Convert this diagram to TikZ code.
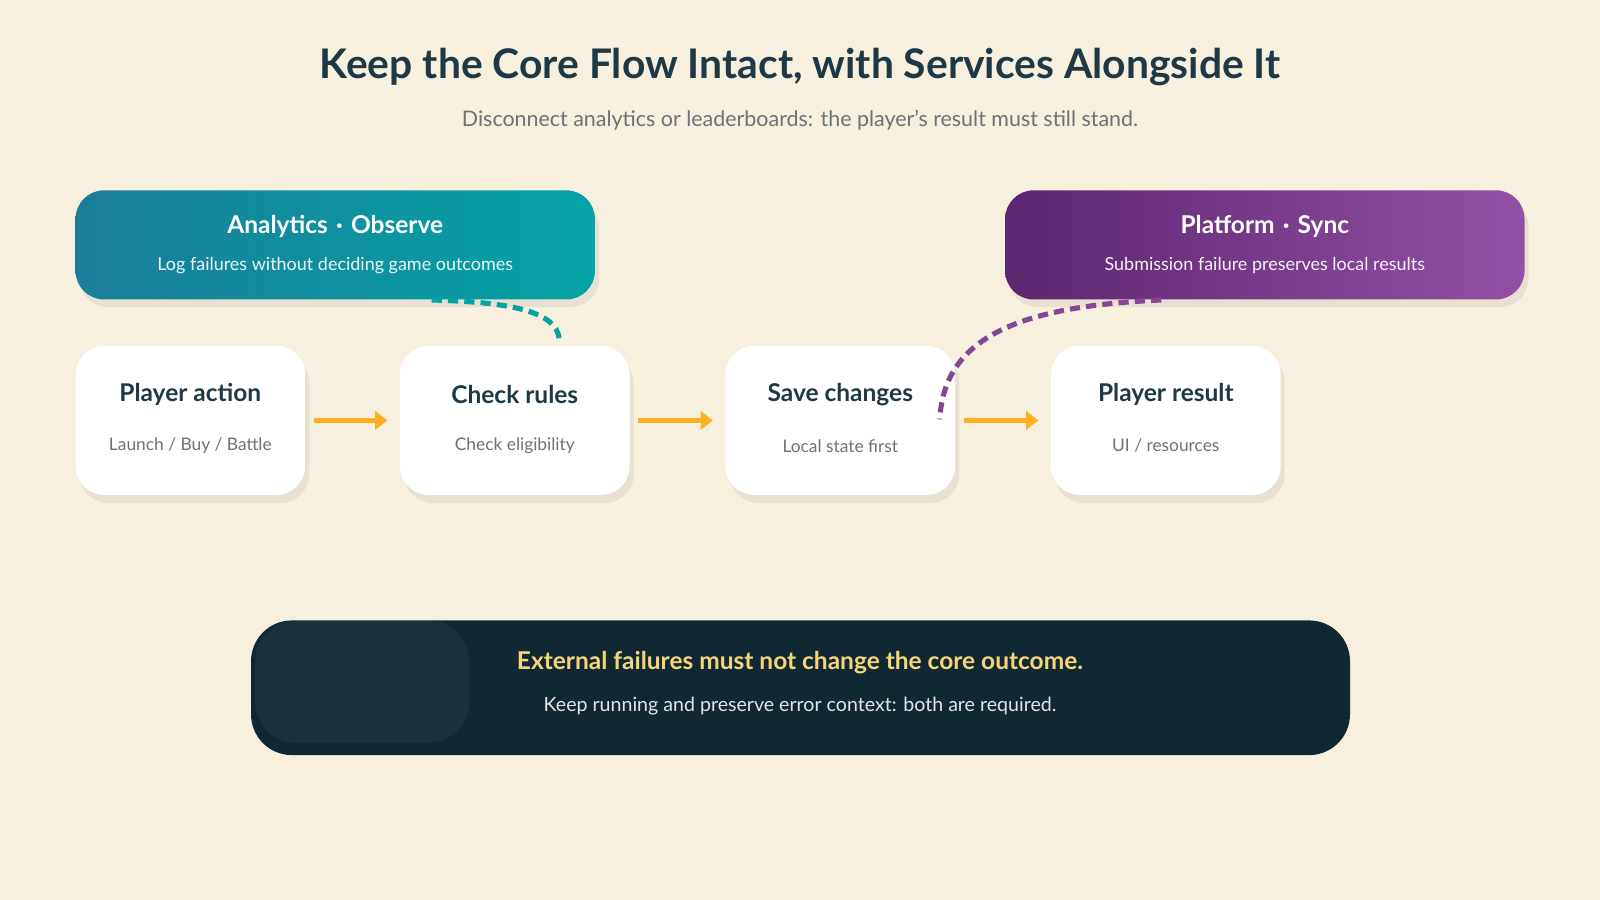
\documentclass[tikz,border=0pt]{standalone}
\usepackage{fontspec}
\setmainfont{Lato}
\usetikzlibrary{arrows.meta, positioning}
\definecolor{paper}{HTML}{F7F0DF}
\definecolor{ink}{HTML}{1E3945}
\definecolor{muted}{HTML}{6B7378}
\definecolor{tealA}{HTML}{1A7D9A}
\definecolor{tealB}{HTML}{04A3A6}
\definecolor{plumA}{HTML}{5C2670}
\definecolor{plumB}{HTML}{944FA6}
\definecolor{navy}{HTML}{112833}
\definecolor{amber}{HTML}{FDB022}
\definecolor{gold}{HTML}{F5D57A}
\tikzset{stepnode/.style={rectangle, rounded corners=14pt, fill=white, minimum width=112.5pt, minimum height=73pt, inner sep=0pt},
servicenode/.style={rectangle, rounded corners=14pt, minimum width=254.5pt, minimum height=53.5pt, inner sep=0pt},
flowarrow/.style={amber, line width=2.5pt, -{Triangle[length=6pt, width=9pt]}}}
\begin{document}
\begin{tikzpicture}[x=0.5pt, y=-0.5pt,
        steptitle/.style={font=\fontsize{12pt}{14pt}\selectfont\bfseries, text=ink},
        stepnote/.style={font=\fontsize{8.5pt}{10pt}\selectfont, text=muted}
    ]
        % Background
        \fill[paper] (0, 0) rectangle (1568, 882);
        \useasboundingbox (0, 0) rectangle (1568, 882);
        % Heading
        \node[font=\fontsize{20pt}{24pt}\selectfont\bfseries, text=ink] (title) at (784, 66) {Keep the Core Flow Intact, with Services Alongside It};
        \node[font=\fontsize{10.5pt}{13pt}\selectfont, text=muted] (subtitle) at (784, 118) {Disconnect analytics or leaderboards: the player's result must still stand.};
        % Services
        \fill[black, opacity=0.06, rounded corners=14pt] (78, 195) rectangle (587, 301);
        \fill[black, opacity=0.06, rounded corners=14pt] (989, 195) rectangle (1498, 301);
        \node[servicenode, left color=tealA, right color=tealB] (analytics) at (328.5, 240) {};
        \node[servicenode, left color=plumA, right color=plumB] (platform) at (1239.5, 240) {};
        \node[font=\fontsize{12pt}{14pt}\selectfont\bfseries, text=white] at (328.5, 222) {Analytics\,\,·\,\,Observe};
        \node[font=\fontsize{8.8pt}{10pt}\selectfont, text=white!92!tealB] at (328.5, 260) {Log failures without deciding game outcomes};
        \node[font=\fontsize{12pt}{14pt}\selectfont\bfseries, text=white] at (1239.5, 222) {Platform\,\,·\,\,Sync};
        \node[font=\fontsize{8.8pt}{10pt}\selectfont, text=white!92!plumB] at (1239.5, 260) {Submission failure preserves local results};
        % Steps
        \foreach \nm/\cx in {action/186.5, rules/504.5, save/823.5, result/1142.5} {
            \fill[black, opacity=0.06, rounded corners=14pt] (\cx-108.5, 347) rectangle (\cx+116.5, 493);
            \node[stepnode] (\nm) at (\cx, 412) {};
        }
        \node[steptitle] at (186.5, 387) {Player action};
        \node[stepnote] at (186.5, 437) {Launch / Buy / Battle};
        \node[steptitle] at (504.5, 387) {Check rules};
        \node[stepnote] at (504.5, 437) {Check eligibility};
        \node[steptitle] at (823.5, 387) {Save changes};
        \node[stepnote] at (823.5, 437) {Local state first};
        \node[steptitle] at (1142.5, 387) {Player result};
        \node[stepnote] at (1142.5, 437) {UI / resources};
        % Flow
        \draw[flowarrow] ([xshift=4pt]action.east) -- ([xshift=-6pt]rules.west);
        \draw[flowarrow] ([xshift=4pt]rules.east) -- ([xshift=-6pt]save.west);
        \draw[flowarrow] ([xshift=4pt]save.east) -- ([xshift=-6pt]result.west);
        % Service links
        \coordinate (tealstart) at (423, 294);
        \coordinate (tealend) at (548, 332);
        \coordinate (plumstart) at (1138, 294);
        \coordinate (plumend) at (921, 411);
        \draw[tealB, line width=2.5pt, dash pattern=on 5pt off 3pt] (tealstart) .. controls (500, 296) and (545, 305) .. (tealend);
        \draw[plumB!90!black, line width=2.5pt, dash pattern=on 5pt off 3pt] (plumstart) .. controls (1000, 300) and (925, 330) .. (plumend);
        % Takeaway
        \fill[navy, rounded corners=20pt] (246, 608) rectangle (1323, 740);
        \fill[white, opacity=0.04, rounded corners=20pt] (250, 608) rectangle (460, 728);
        \node[font=\fontsize{12pt}{14pt}\selectfont\bfseries, text=gold] (takeaway) at (784, 649) {External failures must not change the core outcome.};
        \node[font=\fontsize{9.6pt}{12pt}\selectfont, text=white!88!navy] (detail) at (784, 692) {Keep running and preserve error context: both are required.};
    \end{tikzpicture}
\end{document}
